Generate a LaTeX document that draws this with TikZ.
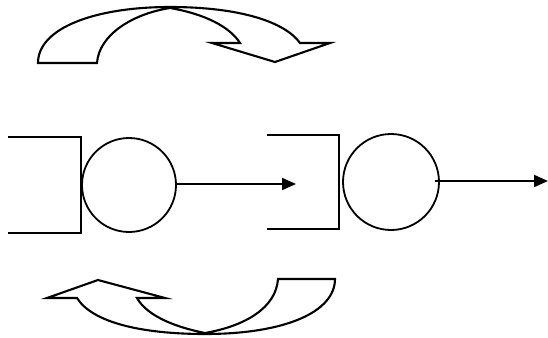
\documentclass[tikz,border=0pt]{standalone}
\usetikzlibrary{arrows.meta}
\begin{document}
\begin{tikzpicture}[x=1pt,y=-1pt,line join=miter,
  ln/.style={line width=2.1pt},
  srv/.style={circle,draw,line width=1.8pt,inner sep=0pt},
  flow/.style={line width=2pt,-{Triangle[length=14pt,width=12pt]}}]
\useasboundingbox (0,0) rectangle (548,337);
% top curved arrow
\draw[ln] (38,63) -- (97,63)
  .. controls (99,35) and (132,14) .. (170,8)
  .. controls (205,14) and (230,27) .. (240,43)
  -- (212,43) -- (275,62) -- (330,43) -- (300,43)
  .. controls (285,22) and (240,7) .. (170,7)
  .. controls (95,7) and (38,28) .. cycle;
% bottom curved arrow
\draw[ln] (335,279) -- (278,279)
  .. controls (276,308) and (245,326) .. (205,333)
  .. controls (170,326) and (146,314) .. (137,298)
  -- (165,298) -- (98,280) -- (47,298) -- (77,298)
  .. controls (92,322) and (140,334) .. (205,334)
  .. controls (285,334) and (335,312) .. cycle;
% first queue
\draw[ln] (8,137) -- (81,137) -- (81,233) -- (8,233);
\node[srv,minimum size=94pt] (c1) at (129,185) {};
% second queue
\draw[ln] (267,135) -- (339,135) -- (339,229) -- (267,229);
\node[srv,minimum size=96pt] (c2) at (391,182) {};
\coordinate (a1) at (296,184);
\coordinate (a2) at (548,181);
\draw[flow] (c1.east |- a1) -- (a1);
\draw[flow] ([xshift=-5pt]c2.east |- a2) -- (a2);
\end{tikzpicture}
\end{document}
